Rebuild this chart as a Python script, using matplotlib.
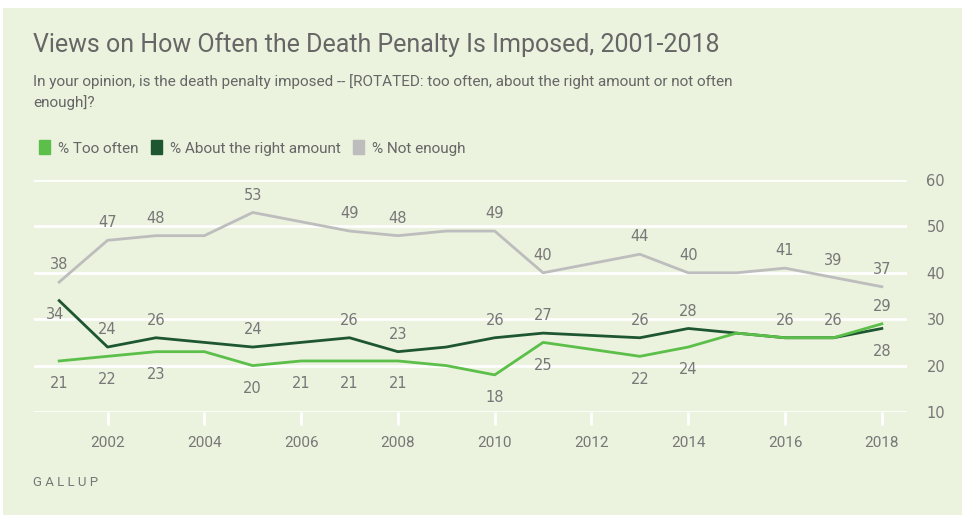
import matplotlib.pyplot as plt
from matplotlib.patches import Rectangle, Patch

years = [2001, 2002, 2003, 2004, 2005, 2006, 2007, 2008, 2009, 2010,
         2011, 2013, 2014, 2015, 2016, 2017, 2018]
too_often = [21, 22, 23, 23, 20, 21, 21, 21, 20, 18, 25, 22, 24, 27, 26, 26, 29]
right_amount = [34, 24, 26, 25, 24, 25, 26, 23, 24, 26, 27, 26, 28, 27, 26, 26, 28]
not_enough = [38, 47, 48, 48, 53, 51, 49, 48, 49, 49, 40, 44, 40, 40, 41, 39, 37]

# label placement per point: 'a' above, 'b' below, '' none
too_often_lbl = ['b', 'b', 'b', '', 'b', 'b', 'b', 'b', '', 'b', 'b', 'b', 'b', '', '', '', 'a']
right_amount_lbl = ['l', 'a', 'a', '', 'a', '', 'a', 'a', '', 'a', 'a', 'a', 'a', '', 'a', 'a', 'b']
not_enough_lbl = ['a', 'a', 'a', '', 'a', '', 'a', 'a', '', 'a', 'a', 'a', 'a', '', 'a', 'a', 'a']

xticks = list(range(2002, 2019, 2))
yticks = [10, 20, 30, 40, 50, 60]

bg = '#ebf2de'
c_light = '#5bbf4a'
c_dark = '#1e5631'
c_grey = '#bdbdbd'
txt = '#777777'
narrow = ['Roboto', 'DejaVu Sans']

fig = plt.figure(figsize=(9.64, 5.2), dpi=100)
fig.patch.set_facecolor('white')
fig.patches.append(Rectangle((3 / 964, 1 - 515 / 520), 959 / 964, 507 / 520,
                             transform=fig.transFigure, facecolor=bg,
                             edgecolor='none', zorder=-5))

ax = fig.add_axes([34 / 964, 1 - 412 / 520, 873 / 964, 232 / 520])
ax.patch.set_alpha(0)
for s in ax.spines.values():
    s.set_visible(False)

ax.set_xlim(2000.48, 2018.52)
ax.set_ylim(10, 60)
for y in yticks:
    ax.axhline(y, color='white', lw=2, zorder=1)

series = [(not_enough, c_grey, not_enough_lbl),
          (right_amount, c_dark, right_amount_lbl),
          (too_often, c_light, too_often_lbl)]
for vals, col, lbls in series:
    ax.plot(years, vals, color=col, lw=2, zorder=3)
for vals, col, lbls in series:
    for x, v, l in zip(years, vals, lbls):
        if not l:
            continue
        off = {'a': (0, 12.5), 'b': (0, -16.5), 'l': (-3, -10)}[l]
        ax.annotate(str(v), (x, v), xytext=off, textcoords='offset points',
                    ha='center', va='center', fontsize=10.5, color=txt, zorder=4)

ax.set_xticks(xticks)
ax.set_xticklabels([str(x) for x in xticks], family=narrow, fontsize=11, color=txt)
ax.tick_params(axis='x', length=9, width=2, color='white', pad=8)
ax.yaxis.tick_right()
ax.set_yticks(yticks)
ax.set_yticklabels([str(y) for y in yticks], fontsize=10.5, color=txt)
ax.tick_params(axis='y', length=0, pad=14)

fig.text(33 / 964, 1 - 45 / 520, 'Views on How Often the Death Penalty Is Imposed, 2001-2018',
         family=narrow, fontsize=18, color='#666666', va='center')
fig.text(33 / 964, 1 - 92 / 520,
         'In your opinion, is the death penalty imposed -- [ROTATED: too often, about the right amount or not often\nenough]?',
         family=narrow, fontsize=11, color='#666666', va='center', linespacing=1.5)

handles = [Patch(color=c_light), Patch(color=c_dark), Patch(color=c_grey)]
labels = ['% Too often', '% About the right amount', '% Not enough']
leg = fig.legend(handles, labels, ncol=3, loc='center left',
                 bbox_to_anchor=(25 / 964, 1 - 148 / 520), frameon=False,
                 handlelength=0.75, handleheight=1.0, handletextpad=0.5,
                 columnspacing=0.8, prop={'family': narrow, 'size': 11})
for t in leg.get_texts():
    t.set_color('#666666')

fig.text(33 / 964, 1 - 483 / 520, 'G A L L U P', family=narrow, fontsize=9.5,
         color=txt, va='center')

fig.savefig('out.png', dpi=100, facecolor=fig.get_facecolor())
